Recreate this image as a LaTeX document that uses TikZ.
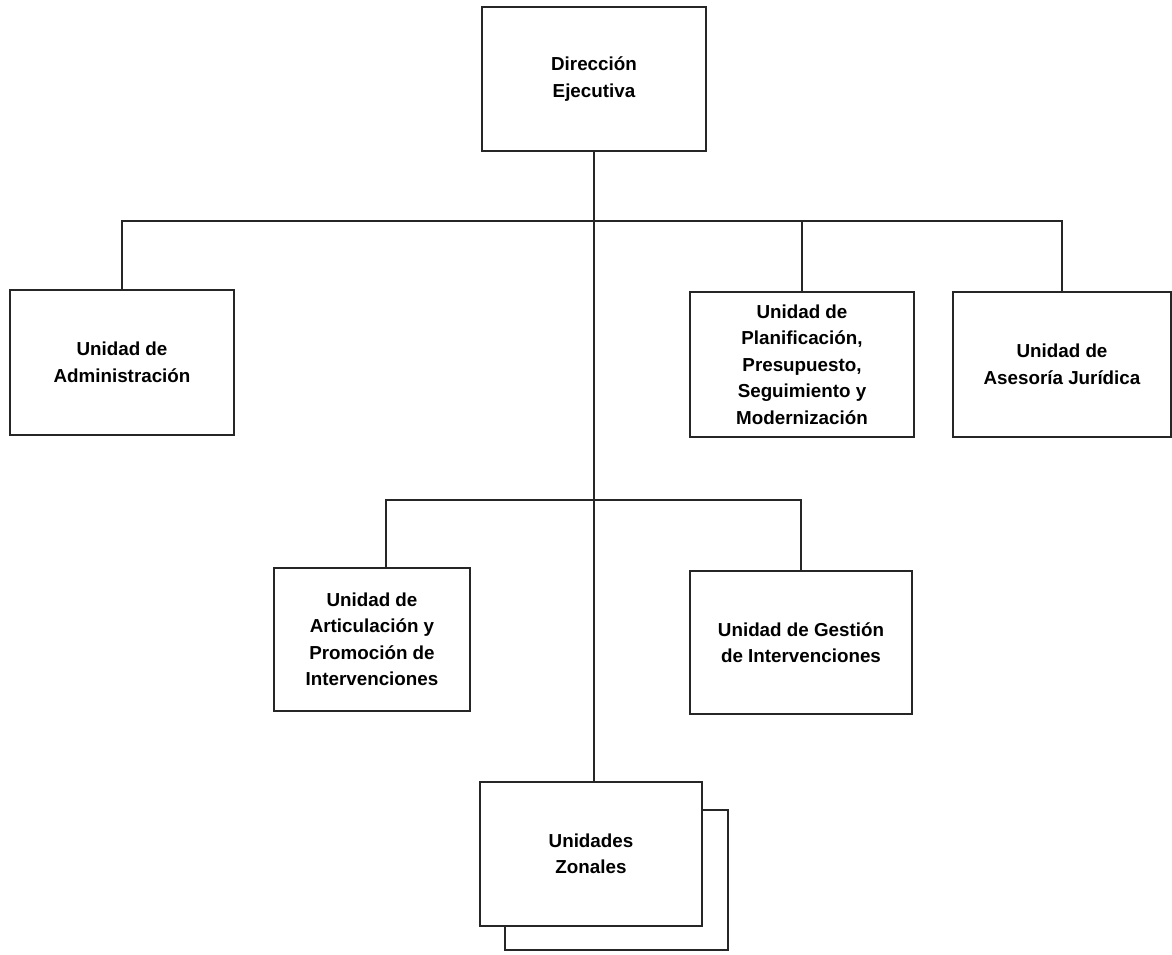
\documentclass[tikz,border=0pt]{standalone}
\usepackage{fontspec}
\setmainfont{Liberation Sans}
\usetikzlibrary{calc}

\tikzset{
  unitbox/.style={draw=black!85, line width=1.2pt, fill=white, align=center, inner sep=0pt,
    font=\bfseries\fontsize{18.8}{26.5}\selectfont},
  link/.style={draw=black!85, line width=1.2pt}
}

\begin{document}
\begin{tikzpicture}[x=1pt,y=-1pt]
			%%%%% START %%%%%
			\useasboundingbox (0,0) rectangle (1172,954);
			
			% direccion
			\node[unitbox, minimum width=224pt, minimum height=144pt] (dir) at (594, 79) {Dirección\\Ejecutiva};
			
			% primer nivel
			\node[unitbox, minimum width=224pt, minimum height=145pt] (adm) at (122, 362.5) {Unidad de\\Administración};
			\node[unitbox, minimum width=224pt, minimum height=145pt] (plan) at (802, 364.5) {Unidad de\\Planificación,\\Presupuesto,\\Seguimiento y\\Modernización};
			\node[unitbox, minimum width=218pt, minimum height=145pt] (ases) at (1062, 364.5) {Unidad de\\Asesoría Jurídica};
			
			% segundo nivel
			\node[unitbox, minimum width=196pt, minimum height=143pt] (art) at (372, 639.5) {Unidad de\\Articulación y\\Promoción de\\Intervenciones};
			\node[unitbox, minimum width=222pt, minimum height=143pt] (ges) at (801, 642.5) {Unidad de Gestión\\de Intervenciones};
			
			% unidades zonales
			\draw[link] (505, 810) rectangle (728, 950);
			\node[unitbox, minimum width=222pt, minimum height=144pt] (zon) at (591, 854) {Unidades\\Zonales};
			
			\coordinate (bar1) at (594, 221);
			\coordinate (bar2) at (594, 500);
			
			\draw[link] (dir.south) -- (dir.south |- zon.north);
			\draw[link] (adm.north) |- (bar1) -| (ases.north);
			\draw[link] (bar1) -| (plan.north);
			\draw[link] ([xshift=14pt]art.north) |- (bar2) -| (ges.north);
			
			%%%%% END %%%%%
\end{tikzpicture}
\end{document}
